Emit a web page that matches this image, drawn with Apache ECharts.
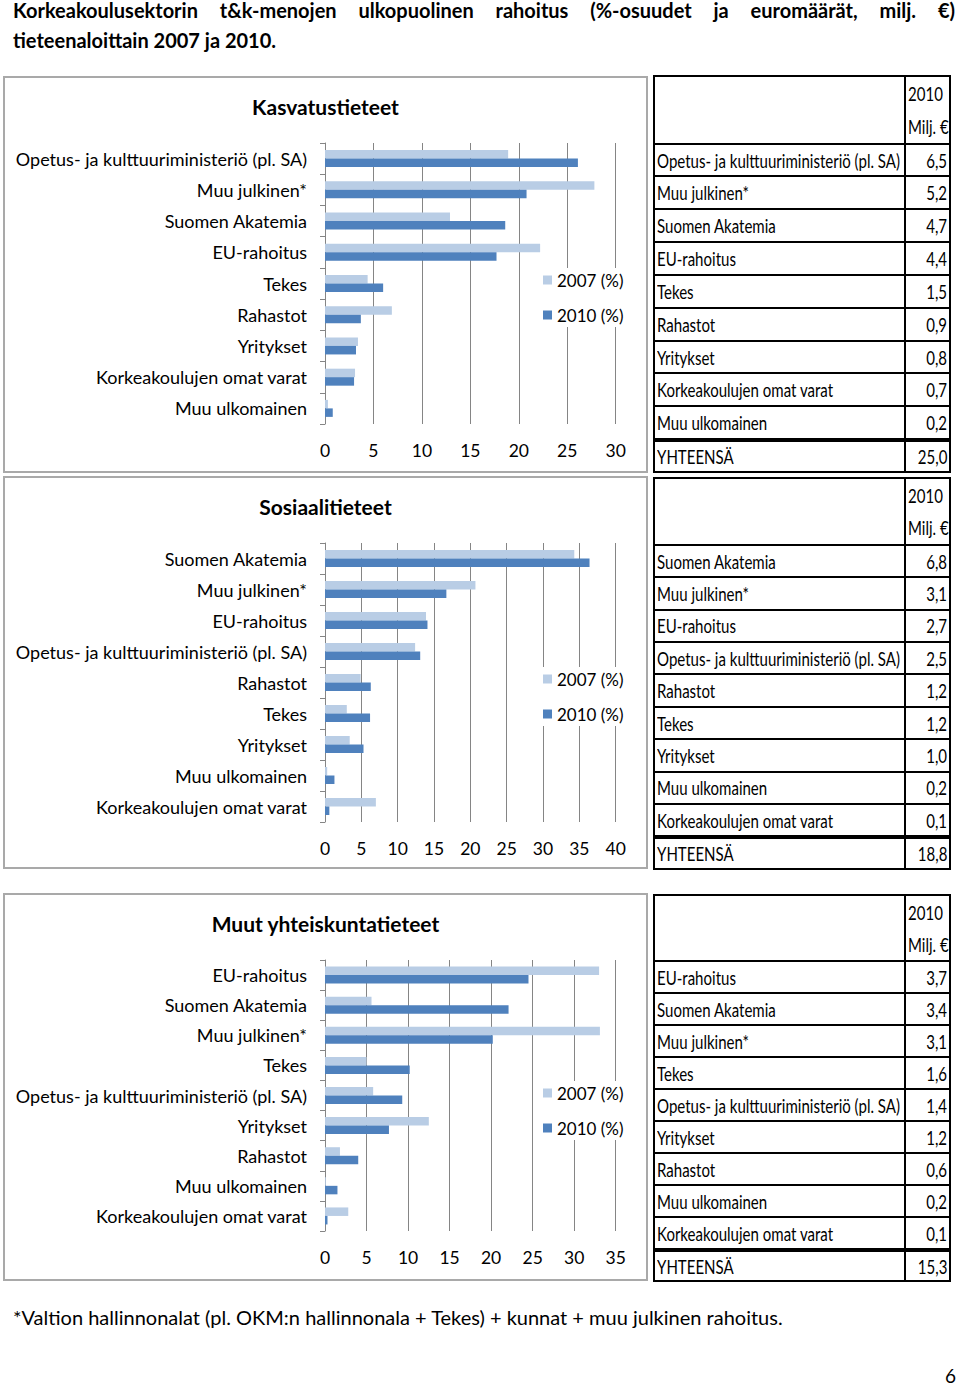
<!DOCTYPE html>
<html><head><meta charset="utf-8">
<script src="https://cdn.jsdelivr.net/npm/echarts@6/dist/echarts.min.js"></script>
<style>
body{margin:0;background:#fff;width:960px;height:1386px;position:relative;overflow:hidden;font-family:Lato,"Open Sans",sans-serif;color:#000}
.ttl{position:absolute;left:13px;width:942px;font-weight:bold;font-size:20px;line-height:24px;white-space:nowrap}
.box{position:absolute;left:3px;width:645px;box-sizing:border-box;border:2px solid #a9a9a9;pointer-events:none}
.chart{position:absolute;left:3px;width:645px}
.tbl{position:absolute;left:653px;width:298px;box-sizing:border-box;border:2px solid #000;font-size:19.5px}
.row{display:flex;box-sizing:border-box;border-top:2px solid #000}
.row.first{border-top:none}
.row.total{border-top:4px solid #000}
.lab{flex:0 0 249px;width:249px;box-sizing:border-box;display:flex;align-items:center;padding-left:2px;overflow:visible;white-space:nowrap;min-width:0}
.val{flex:1 1 auto;min-width:0;box-sizing:border-box;border-left:2px solid #000;display:flex;align-items:center;justify-content:flex-end;padding-right:2px;white-space:nowrap}
.hdr{flex:1 1 auto;min-width:0;box-sizing:border-box;border-left:2px solid #000;padding-left:2px;display:flex;flex-direction:column;justify-content:space-around;white-space:nowrap;overflow:visible}
.s{display:inline-block}
</style></head><body>

<div class="ttl" style="top:-2px;text-align:justify;text-align-last:justify">Korkeakoulusektorin t&amp;k-menojen ulkopuolinen rahoitus (%-osuudet ja euromäärät, milj. €)</div>
<div class="ttl" style="top:28px">tieteenaloittain 2007 ja 2010.</div>

<div class="chart" id="c1" style="top:76px;height:397px"></div>
<div class="box" style="top:76px;height:397px"></div>
<div class="chart" id="c2" style="top:476px;height:393px"></div>
<div class="box" style="top:476px;height:393px"></div>
<div class="chart" id="c3" style="top:893px;height:388px"></div>
<div class="box" style="top:893px;height:388px"></div>

<div id="tables"></div>

<div style="position:absolute;left:13px;top:1305px;font-size:20px;white-space:nowrap">*Valtion hallinnonalat (pl. OKM:n hallinnonala + Tekes) + kunnat + muu julkinen rahoitus.</div>
<div style="position:absolute;left:945px;top:1364px;font-size:19px">6</div>

<script>
// ---------- Data ----------
const seriesNames = ['2007 (%)', '2010 (%)'];

const kasvatusTitle = 'Kasvatustieteet';
const kasvatusCategories = ['Opetus- ja kulttuuriministeriö (pl. SA)', 'Muu julkinen*', 'Suomen Akatemia', 'EU-rahoitus', 'Tekes', 'Rahastot', 'Yritykset', 'Korkeakoulujen omat varat', 'Muu ulkomainen'];
const kasvatus2007 = [18.9, 27.8, 12.9, 22.2, 4.4, 6.9, 3.4, 3.1, 0.3];
const kasvatus2010 = [26.1, 20.8, 18.6, 17.7, 6.0, 3.7, 3.2, 3.0, 0.8];
const kasvatusTableMilj = ['6,5', '5,2', '4,7', '4,4', '1,5', '0,9', '0,8', '0,7', '0,2'];
const kasvatusTotal = '25,0';
const kasvatusXMax = 30;

const sosiaaliTitle = 'Sosiaalitieteet';
const sosiaaliCategories = ['Suomen Akatemia', 'Muu julkinen*', 'EU-rahoitus', 'Opetus- ja kulttuuriministeriö (pl. SA)', 'Rahastot', 'Tekes', 'Yritykset', 'Muu ulkomainen', 'Korkeakoulujen omat varat'];
const sosiaali2007 = [34.3, 20.7, 13.9, 12.4, 4.9, 3.0, 3.4, 0.3, 7.0];
const sosiaali2010 = [36.4, 16.7, 14.1, 13.1, 6.3, 6.2, 5.3, 1.3, 0.6];
const sosiaaliTableMilj = ['6,8', '3,1', '2,7', '2,5', '1,2', '1,2', '1,0', '0,2', '0,1'];
const sosiaaliTotal = '18,8';
const sosiaaliXMax = 40;

const muutTitle = 'Muut yhteiskuntatieteet';
const muutCategories = ['EU-rahoitus', 'Suomen Akatemia', 'Muu julkinen*', 'Tekes', 'Opetus- ja kulttuuriministeriö (pl. SA)', 'Yritykset', 'Rahastot', 'Muu ulkomainen', 'Korkeakoulujen omat varat'];
const muut2007 = [33.0, 5.6, 33.1, 5.0, 5.8, 12.5, 1.8, 0.1, 2.8];
const muut2010 = [24.5, 22.1, 20.2, 10.2, 9.3, 7.7, 4.0, 1.5, 0.3];
const muutTableMilj = ['3,7', '3,4', '3,1', '1,6', '1,4', '1,2', '0,6', '0,2', '0,1'];
const muutTotal = '15,3';
const muutXMax = 35;

const tableHeader = ['2010', 'Milj. €'];
const totalLabel = 'YHTEENSÄ';
const xTickInterval = 5;

// ---------- Charts ----------
const FONT = 'Lato';
function makeChart(id, title, cats, v07, v10, xmax, gridH, legendTop) {
  const chart = echarts.init(document.getElementById(id), null, {renderer: 'svg'});
  chart.setOption({
    animation: false,
    title: {text: title, left: 'center', top: 15,
      textStyle: {fontFamily: FONT, fontWeight: 'bold', fontSize: 21, color: '#000'}},
    legend: {orient: 'vertical', left: 537, top: legendTop, icon: 'rect', itemWidth: 9, itemHeight: 9,
      itemGap: 15, data: seriesNames, backgroundColor: '#fff', padding: [2, 3, 2, 3],
      textStyle: {fontFamily: FONT, fontSize: 17, color: '#000', lineHeight: 20}},
    grid: {left: 322, top: 67, width: 290.7, height: gridH, outerBoundsMode: 'none'},
    xAxis: {type: 'value', min: 0, max: xmax, interval: xTickInterval,
      axisLine: {show: false}, axisTick: {show: false},
      splitLine: {show: true, lineStyle: {color: '#858585', width: 1}},
      axisLabel: {fontFamily: FONT, fontSize: 17.5, margin: 17, color: '#000'}},
    yAxis: {type: 'category', inverse: true, data: cats,
      axisLine: {show: true, lineStyle: {color: '#858585'}},
      axisTick: {show: true, length: 5, lineStyle: {color: '#858585'}},
      axisLabel: {fontFamily: FONT, fontSize: 18, margin: 18, color: '#000'}},
    series: [
      {name: seriesNames[0], type: 'bar', data: v07, barWidth: 8.5, barGap: '0%',
        itemStyle: {color: '#B9CDE5'}},
      {name: seriesNames[1], type: 'bar', data: v10, barWidth: 8.5, barGap: '0%',
        itemStyle: {color: '#4F81BD'}}
    ]
  });
}
makeChart('c1', kasvatusTitle, kasvatusCategories, kasvatus2007, kasvatus2010, kasvatusXMax, 281, 192);
makeChart('c2', sosiaaliTitle, sosiaaliCategories, sosiaali2007, sosiaali2010, sosiaaliXMax, 279, 191);
makeChart('c3', muutTitle, muutCategories, muut2007, muut2010, muutXMax, 271, 188);

// ---------- Tables ----------
function makeTable(top, height, cats, vals, total) {
  const t = document.createElement('div');
  t.className = 'tbl';
  t.style.top = top + 'px';
  t.style.height = height + 'px';
  const unit = (height - 4) / 12;
  let html = '<div class="row first" style="height:' + (2 * unit) + 'px"><div class="lab"></div><div class="hdr"><span class="s v">' +
    tableHeader[0] + '</span><span class="s v">' + tableHeader[1] + '</span></div></div>';
  cats.forEach((c, i) => {
    html += '<div class="row" style="height:' + unit + 'px"><div class="lab"><span class="s l">' + c +
      '</span></div><div class="val"><span class="s r">' + vals[i] + '</span></div></div>';
  });
  html += '<div class="row total" style="height:' + unit + 'px"><div class="lab"><span class="s l">' + totalLabel +
    '</span></div><div class="val"><span class="s r">' + total + '</span></div></div>';
  t.innerHTML = html;
  document.getElementById('tables').appendChild(t);
  // condense text like the reference
  let maxW = 0;
  t.querySelectorAll('.l').forEach(s => { maxW = Math.max(maxW, s.getBoundingClientRect().width); });
  const sc = 243 / maxW;
  t.querySelectorAll('.l').forEach(s => { s.style.transform = 'scaleX(' + sc + ')'; s.style.transformOrigin = 'left center'; });
  t.querySelectorAll('.r').forEach(s => { s.style.transform = 'scaleX(' + sc + ')'; s.style.transformOrigin = 'right center'; });
  t.querySelectorAll('.v').forEach(s => { s.style.transform = 'scaleX(' + sc + ')'; s.style.transformOrigin = 'left center'; });
}
makeTable(75, 398, kasvatusCategories, kasvatusTableMilj, kasvatusTotal);
makeTable(477, 393, sosiaaliCategories, sosiaaliTableMilj, sosiaaliTotal);
makeTable(894, 388, muutCategories, muutTableMilj, muutTotal);
</script>
</body></html>
